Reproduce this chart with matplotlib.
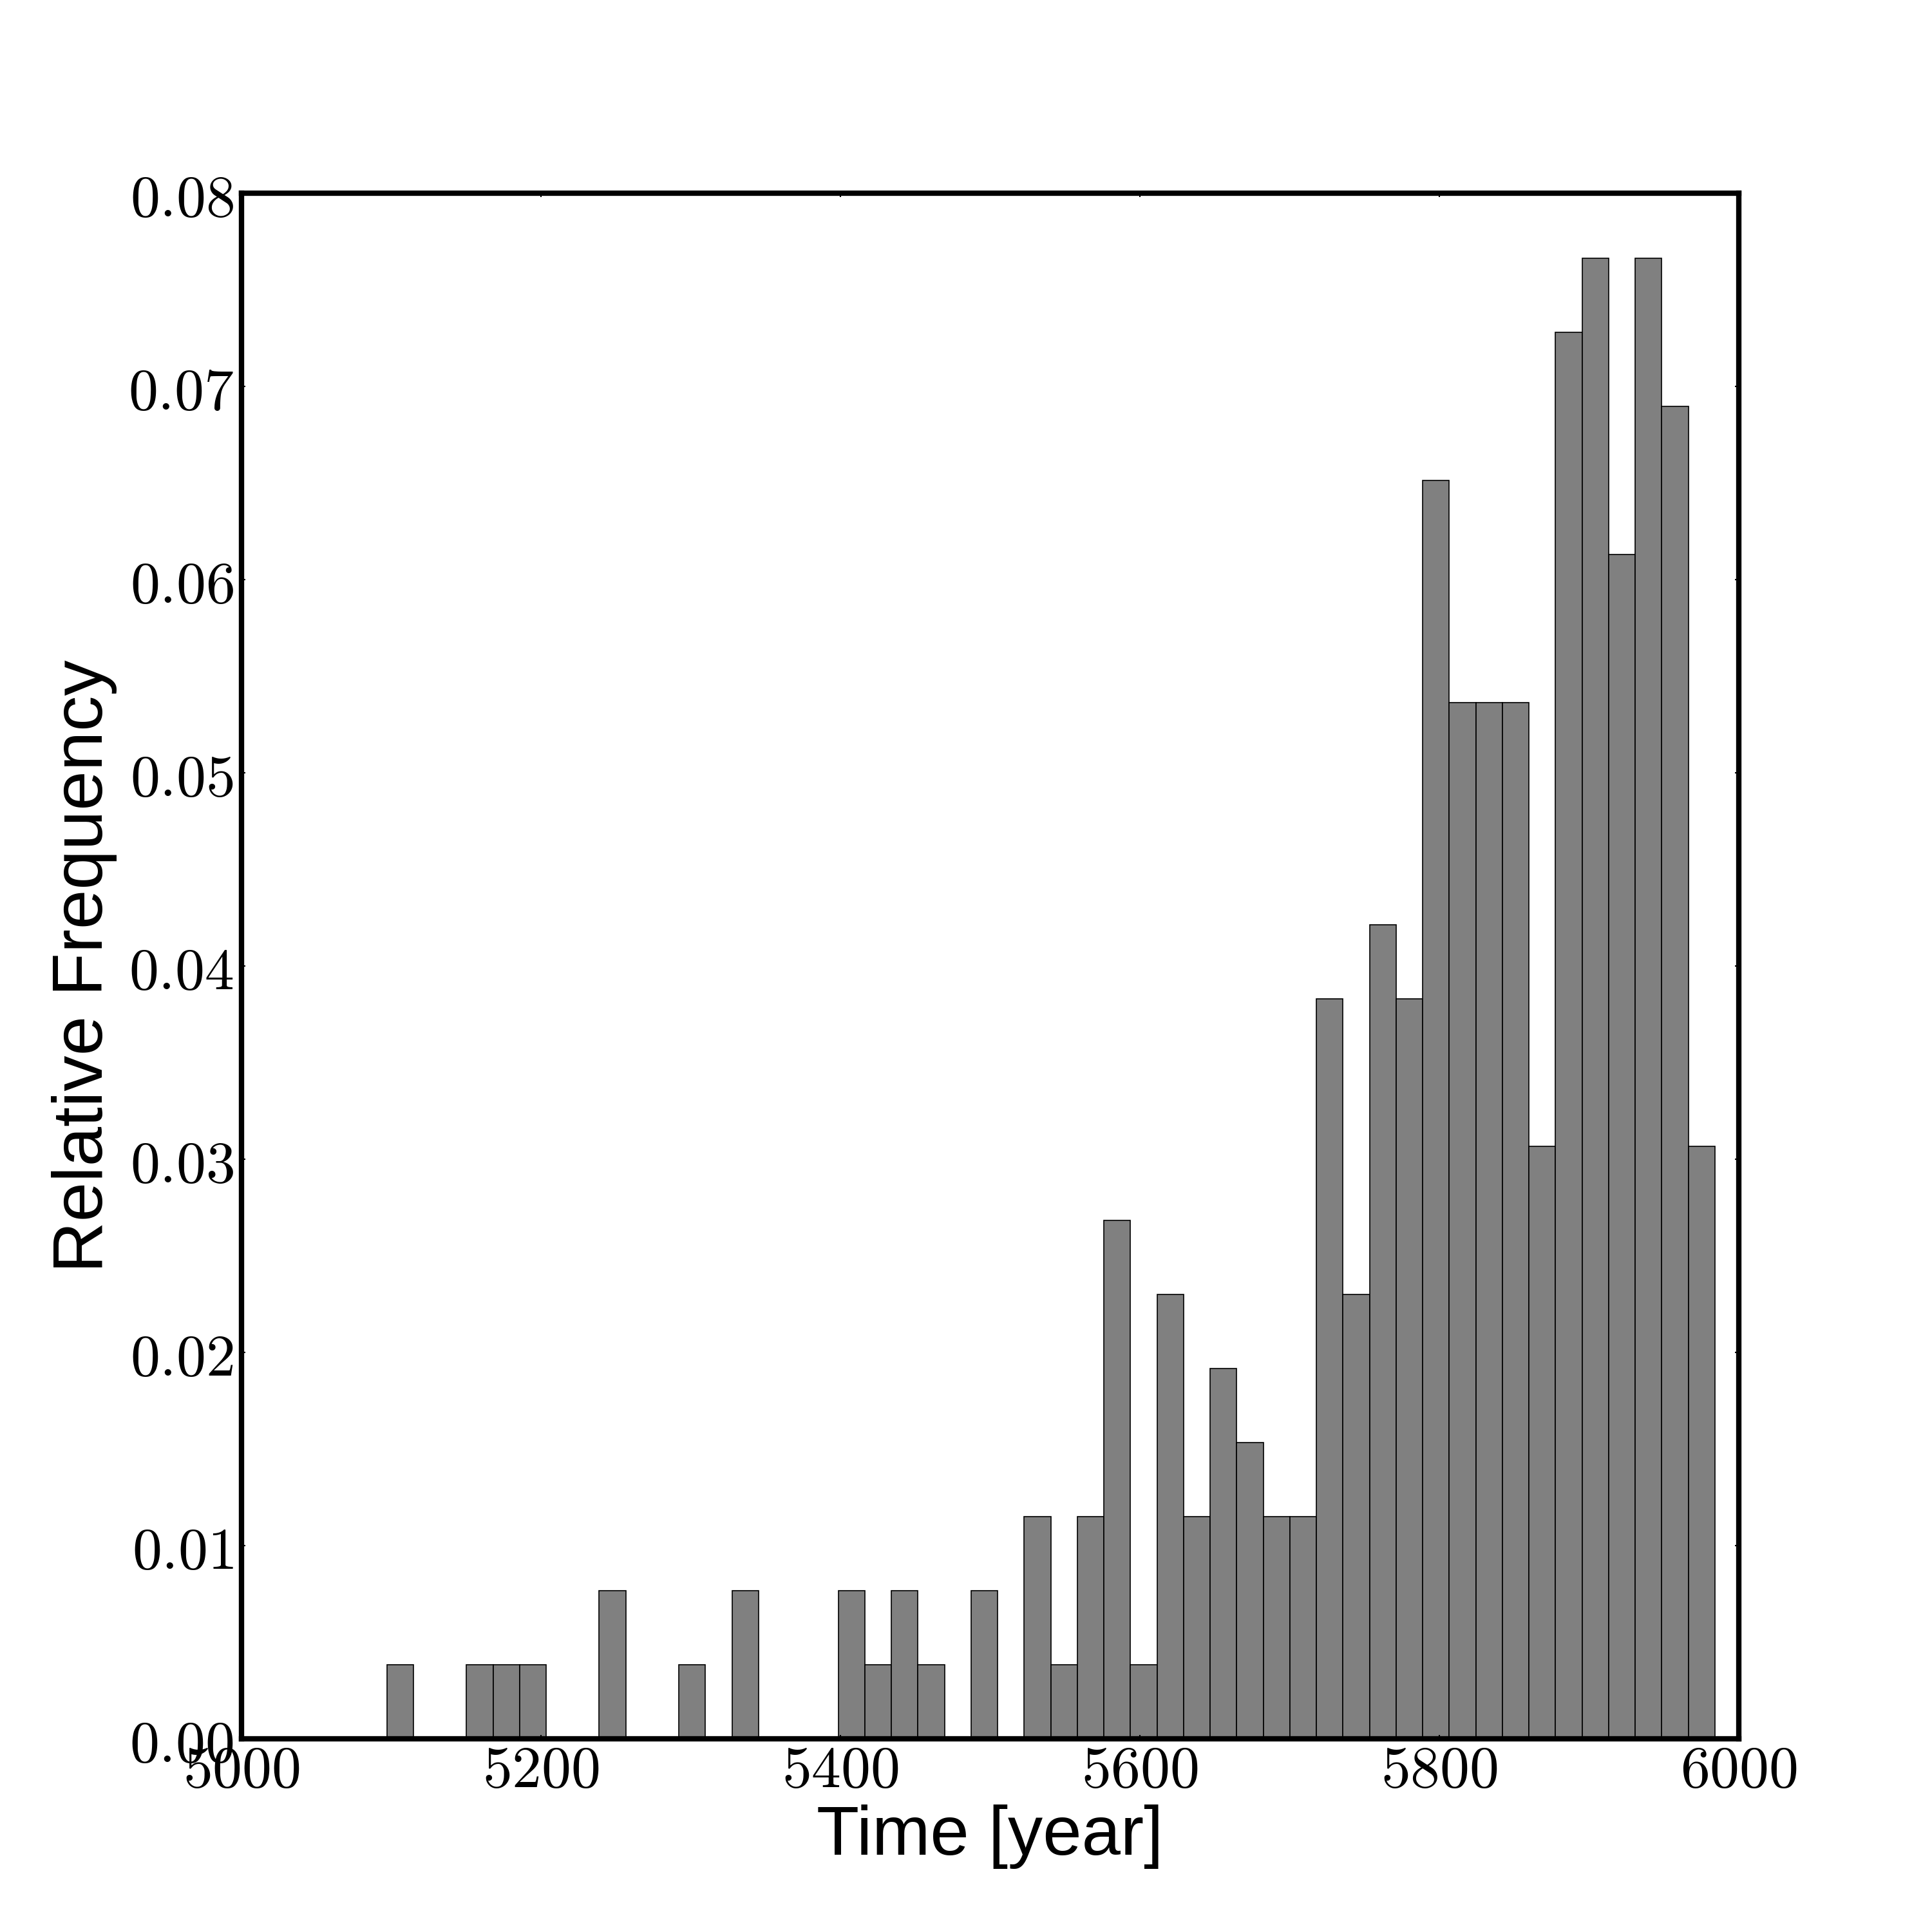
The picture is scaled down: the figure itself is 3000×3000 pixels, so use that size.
import numpy as np
import matplotlib.pyplot as plt
from matplotlib.ticker import FuncFormatter

plt.rcParams['mathtext.fontset'] = 'cm'

# Histogramme : 50 classes entre ~5097 et ~5984 (comptes)
bin_start = 5097.0
bin_stop = 5984.0
n_bins = 50
counts = np.array([1, 0, 0, 1, 1, 1, 0, 0, 2, 0,
                   0, 1, 0, 2, 0, 0, 0, 2, 1, 2,
                   1, 0, 2, 0, 3, 1, 3, 7, 1, 6,
                   3, 5, 4, 3, 3, 10, 6, 11, 10, 17,
                   14, 14, 14, 8, 19, 20, 16, 20, 18, 8])

edges = np.linspace(bin_start, bin_stop, n_bins + 1)
centers = 0.5 * (edges[:-1] + edges[1:])
weights = counts / counts.sum()

fig = plt.figure(figsize=(10, 10), dpi=300)
ax = fig.add_axes([0.125, 0.1, 0.775, 0.8])

ax.hist(centers, bins=edges, weights=weights, color='#808080',
        edgecolor='black', linewidth=0.4)

ax.set_xlim(5000, 6000)
ax.set_ylim(0, 0.08)
ax.set_xticks([5000, 5200, 5400, 5600, 5800, 6000])
ax.set_yticks(np.arange(0, 0.081, 0.01))
ax.xaxis.set_major_formatter(FuncFormatter(lambda v, p: r'$%d$' % v))
ax.yaxis.set_major_formatter(FuncFormatter(lambda v, p: r'$%.2f$' % v))

ax.tick_params(direction='in', length=1.5, width=0.5, top=True, right=True,
               labelsize=22)
ax.tick_params(axis='x', pad=1)
ax.tick_params(axis='y', pad=3)
for s in ax.spines.values():
    s.set_linewidth(2)

ax.set_xlabel('Time [year]', fontsize=26, family='Liberation Sans', labelpad=2)
ax.set_ylabel('Relative Frequency', fontsize=26.5, family='Liberation Sans', labelpad=4)

plt.savefig('out.png', dpi=300)
plt.close()
